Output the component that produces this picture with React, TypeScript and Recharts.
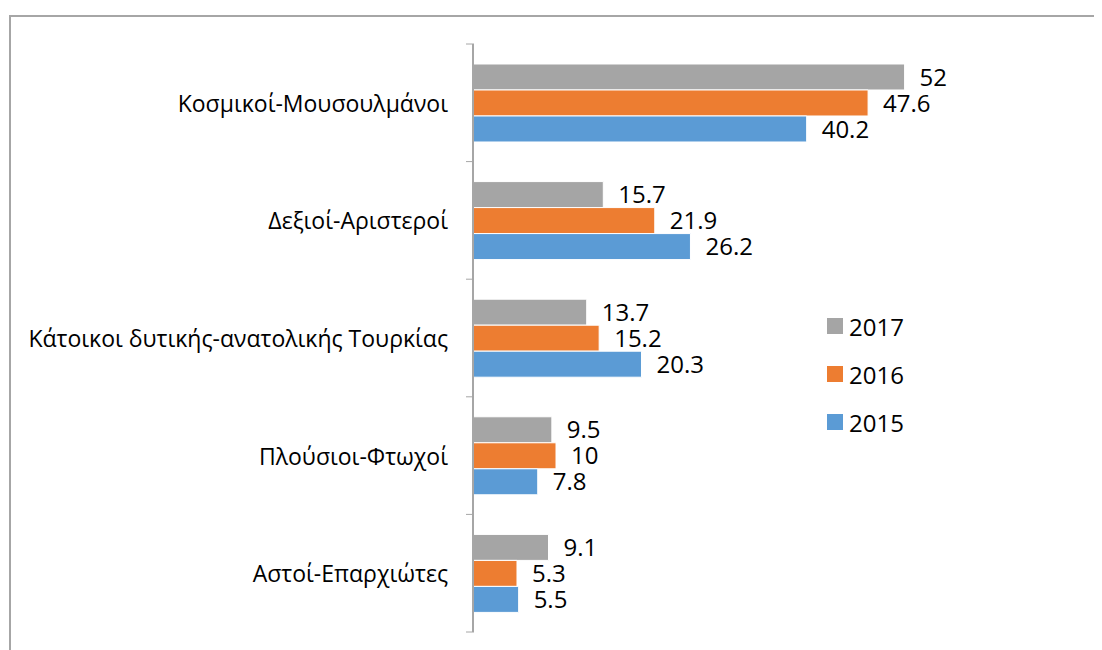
import React from "react";
import { Bar, BarChart, LabelList, XAxis, YAxis } from "recharts";

const CATEGORIES = [
  "Κοσμικοί-Μουσουλμάνοι",
  "Δεξιοί-Αριστεροί",
  "Κάτοικοι δυτικής-ανατολικής Τουρκίας",
  "Πλούσιοι-Φτωχοί",
  "Αστοί-Επαρχιώτες",
];
const Y2017 = [52, 15.7, 13.7, 9.5, 9.1];
const Y2016 = [47.6, 21.9, 15.2, 10, 5.3];
const Y2015 = [40.2, 26.2, 20.3, 7.8, 5.5];

const SERIES = [
  { key: "y2017", name: "2017", color: "#a5a5a5" },
  { key: "y2016", name: "2016", color: "#ed7d31" },
  { key: "y2015", name: "2015", color: "#5b9bd5" },
];

const data = CATEGORIES.map((name, i) => ({
  name,
  y2017: Y2017[i],
  y2016: Y2016[i],
  y2015: Y2015[i],
}));

const W = 1094;
const H = 642;
const MARGIN = { top: 36, right: 131, bottom: 18, left: 0 };
const AXIS_W = 465;
const FONT = "'Open Sans', 'Noto Sans', sans-serif";
const AXIS_COLOR = "#a6a6a6";
const BAND = (H - MARGIN.top - MARGIN.bottom) / CATEGORIES.length;

// category label plus tick marks at the band edges, like Excel does
function CategoryTick({ x, y, payload, index }: any) {
  const last = index === CATEGORIES.length - 1;
  return (
    <g>
      <line x1={x + 1} x2={x + 9} y1={y - BAND / 2} y2={y - BAND / 2} stroke={AXIS_COLOR} />
      {last && <line x1={x + 1} x2={x + 9} y1={y + BAND / 2} y2={y + BAND / 2} stroke={AXIS_COLOR} />}
      <text x={x - 17} y={y} textAnchor="end" dominantBaseline="central" fontSize={23} fill="#000" fontFamily={FONT}>
        {payload.value}
      </text>
    </g>
  );
}

function LegendBox() {
  return (
    <div style={{ fontFamily: FONT, fontSize: 24, color: "#000" }}>
      {SERIES.map((s) => (
        <div key={s.key} style={{ display: "flex", alignItems: "center", height: 48 }}>
          <span style={{ width: 16, height: 16, background: s.color, marginRight: 6 }} />
          <span>{s.name}</span>
        </div>
      ))}
    </div>
  );
}

export default function App() {
  return (
    <div style={{ position: "relative", width: W, height: H }}>
      <div
        style={{
          position: "absolute",
          left: 1,
          top: 7,
          right: -20,
          bottom: -20,
          borderTop: "2px solid #a6a6a6",
          borderLeft: "2px solid #a6a6a6",
        }}
      />
      <div style={{ position: "absolute", left: 0, top: 0 }}>
        <BarChart
          width={W}
          height={H}
          data={data}
          layout="vertical"
          margin={MARGIN}
          barCategoryGap="17%"
          barGap={0}
        >
          <XAxis type="number" domain={[0, 60]} hide />
          <YAxis
            type="category"
            dataKey="name"
            width={AXIS_W}
            axisLine={{ stroke: AXIS_COLOR, strokeWidth: 2 }}
            tickLine={false}
            tick={<CategoryTick />}
            interval={0}
          />
          {SERIES.map((s) => (
            <Bar key={s.key} dataKey={s.key} name={s.name} fill={s.color} stroke="#fff" strokeWidth={1} isAnimationActive={false}>
              <LabelList dataKey={s.key} position="right" offset={15} fill="#000" fontSize={24} fontFamily={FONT} />
            </Bar>
          ))}
        </BarChart>
      </div>
      <div style={{ position: "absolute", left: 819, top: 294 }}>
        <LegendBox />
      </div>
    </div>
  );
}
